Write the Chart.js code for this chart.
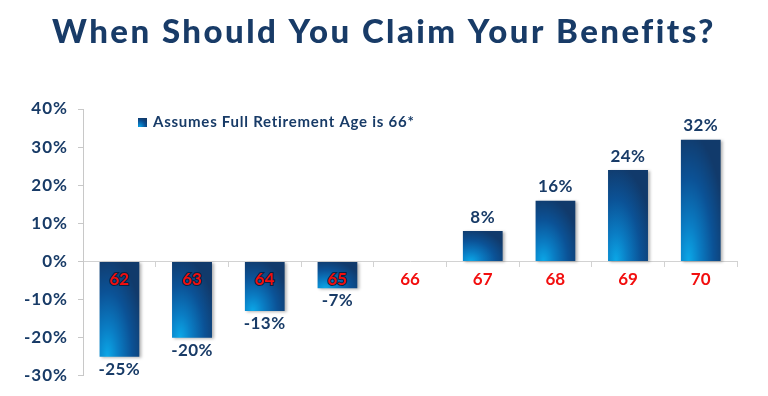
<!DOCTYPE html>
<html><head><meta charset="utf-8">
<script src="https://cdn.jsdelivr.net/npm/chart.js@4/dist/chart.umd.min.js"></script>
<style>html,body{margin:0;padding:0;background:#fff;}#wrap{width:768px;height:396px;}</style>
</head><body><div id="wrap"><canvas id="c" width="768" height="396"></canvas></div>
<script>
const titleText = 'When Should You Claim Your Benefits?';
const seriesName = 'Assumes Full Retirement Age is 66*';
const ages = ['62', '63', '64', '65', '66', '67', '68', '69', '70'];
const benefitChange = [-25, -20, -13, -7, 0, 8, 16, 24, 32];
const yMin = -30, yMax = 40, yStep = 10;

const NAVY = '#183b67';
const RED = '#f20f0f';
const BAR_PCT = 0.55;
const FONT = 'Lato, "Open Sans", sans-serif';
const PAD_RIGHT = 31;

function paintGradient(g, w, h) {
  g.save();
  g.translate(w * 0.2, h);
  g.scale(w * 0.95, h * 1.05);
  const rg = g.createRadialGradient(0, 0, 0, 0, 0, 1);
  rg.addColorStop(0, '#0ba8e8');
  rg.addColorStop(0.3, '#0a7cc3');
  rg.addColorStop(0.65, '#0b5296');
  rg.addColorStop(1, '#113a6b');
  g.fillStyle = rg;
  g.fillRect(-1, -2, 3, 3);
  g.restore();
}

function barFill(ctx) {
  const ch = ctx.chart, xs = ch.scales.x, ys = ch.scales.y;
  if (!xs || !ys || ctx.dataIndex === undefined) return '#0b5296';
  const v = benefitChange[ctx.dataIndex];
  if (!v) return '#0b5296';
  const w = (xs.right - xs.left) / ages.length * BAR_PCT;
  const cx = xs.getPixelForValue(ctx.dataIndex);
  const top = ys.getPixelForValue(Math.max(v, 0));
  const bot = ys.getPixelForValue(Math.min(v, 0));
  const h = bot - top;
  if (!(w > 1 && h > 1)) return '#0b5296';
  const c = document.createElement('canvas');
  c.width = Math.ceil(w) + 2; c.height = Math.ceil(h) + 2;
  paintGradient(c.getContext('2d'), w, h);
  const p = ch.ctx.createPattern(c, 'no-repeat');
  p.setTransform(new DOMMatrix([1, 0, 0, 1, cx - w / 2, top]));
  return p;
}

function withSpacing(obj, method, spacing, chart, dx) {
  if (!obj || obj['_sp_' + method]) return;
  const orig = obj[method];
  obj[method] = function (...args) {
    const c = chart.ctx;
    c.save();
    c.letterSpacing = spacing;
    if (dx) c.translate(dx, 0);
    const r = orig.apply(this, args);
    c.restore();
    return r;
  };
  obj['_sp_' + method] = true;
}

const decorPlugin = {
  id: 'decor',
  beforeDraw(chart) {
    // centre the title on the whole canvas rather than on the padded box
    withSpacing(chart.titleBlock, 'draw', '2.45px', chart, PAD_RIGHT / 2);
    withSpacing(chart.scales.y, 'drawLabels', '1px', chart, 0);
  },
  beforeDatasetsDraw(chart) {
    const c = chart.ctx;
    c.save();
    c.shadowColor = 'rgba(0,0,0,0.3)';
    c.shadowBlur = 3;
    c.shadowOffsetX = 2;
    c.shadowOffsetY = 1;
  },
  afterDatasetsDraw(chart) {
    const c = chart.ctx;
    c.restore();
    const meta = chart.getDatasetMeta(0);
    c.save();
    c.font = 'bold 17px ' + FONT;
    c.letterSpacing = '0.4px';
    c.fillStyle = NAVY;
    c.textAlign = 'center';
    meta.data.forEach((el, i) => {
      const v = benefitChange[i];
      if (v > 0) {
        c.textBaseline = 'alphabetic';
        c.fillText(v + '%', el.x, el.y - 8);
      } else if (v < 0) {
        c.textBaseline = 'top';
        c.fillText(v + '%', el.x, el.y + 4);
      }
    });
    c.restore();
  },
  afterDraw(chart) {
    const c = chart.ctx;
    c.save();
    const sx = 138, sy = 118, s = 9;
    const off = document.createElement('canvas');
    off.width = s; off.height = s;
    paintGradient(off.getContext('2d'), s, s);
    c.drawImage(off, sx, sy);
    c.font = 'bold 15px ' + FONT;
    c.letterSpacing = '0.75px';
    c.fillStyle = NAVY;
    c.textAlign = 'left';
    c.textBaseline = 'middle';
    c.fillText(seriesName, 153, 122);
    c.restore();
  }
};

new Chart(document.getElementById('c'), {
  type: 'bar',
  data: {
    labels: ages,
    datasets: [{
      label: seriesName,
      data: benefitChange,
      backgroundColor: barFill,
      borderWidth: 0,
      barPercentage: BAR_PCT,
      categoryPercentage: 1
    }]
  },
  options: {
    responsive: false,
    animation: false,
    events: [],
    layout: { padding: { left: 0, right: PAD_RIGHT, top: 0, bottom: 19 } },
    plugins: {
      legend: { display: false },
      tooltip: { enabled: false },
      title: {
        display: true,
        text: titleText,
        color: NAVY,
        font: { family: FONT, size: 33, weight: '900' },
        padding: { top: 13, bottom: 56.4 }
      }
    },
    scales: {
      x: {
        type: 'category',
        position: { y: 0 },
        grid: { drawOnChartArea: false, drawTicks: true, tickLength: 5, color: '#d2d2d2', offset: true },
        border: { color: '#d2d2d2' },
        ticks: {
          color: RED,
          font: { family: FONT, size: 17, weight: 'bold' },
          padding: 3, z: 1, maxRotation: 0,
          textStrokeColor: c => (benefitChange[c.index] < 0 ? 'rgba(8,28,58,0.85)' : ''),
          textStrokeWidth: c => (benefitChange[c.index] < 0 ? 2 : 0)
        }
      },
      y: {
        min: yMin, max: yMax,
        afterFit(scale) { scale.width = 83; },
        grid: { drawOnChartArea: false, drawTicks: true, tickLength: 5, color: '#c8c8c8' },
        border: { color: '#c8c8c8' },
        ticks: {
          stepSize: yStep,
          color: NAVY,
          padding: 10,
          font: { family: FONT, size: 17, weight: 'bold' },
          callback: v => v + '%'
        }
      }
    }
  },
  plugins: [decorPlugin]
});
</script></body></html>
